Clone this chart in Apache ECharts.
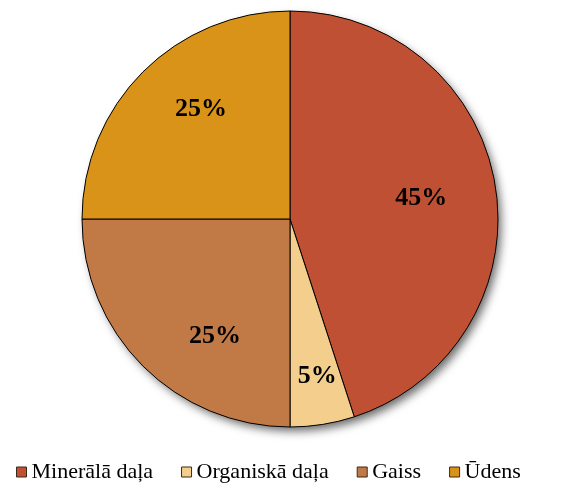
<!DOCTYPE html>
<html>
<head>
<meta charset="utf-8">
<script src="https://cdn.jsdelivr.net/npm/echarts@6/dist/echarts.min.js"></script>
<style>
  html, body { margin: 0; padding: 0; background: #fff; }
  #pie-chart { width: 580px; height: 484px; }
</style>
</head>
<body>
<div id="pie-chart"></div>
<script>
var categories = ['Minerālā daļa', 'Organiskā daļa', 'Gaiss', 'Ūdens'];
var values = [45, 5, 25, 25];
var colors = ['#BF5034', '#F3CE8C', '#C17A46', '#D99318'];

document.addEventListener('DOMContentLoaded', function () {
    var pieChart = echarts.init(document.getElementById('pie-chart'));

    // label nudges, Excel places them a bit off mid-angle
    var labelOffsets = [[-10, 2], [5, 16], [26, 16], [12, -9]];

    var pieData = categories.map(function (name, i) {
        return { name: name, value: values[i], itemStyle: { color: colors[i] } };
    });

    var option = {
        animation: false,
        textStyle: { fontFamily: 'Liberation Serif' },
        legend: {
            top: 456,
            left: 11,
            itemWidth: 10,
            itemHeight: 10,
            itemGap: 28,
            icon: 'rect',
            itemStyle: { borderColor: '#3a2a1a', borderWidth: 1 },
            textStyle: {
                fontFamily: 'Liberation Serif',
                fontSize: 22,
                color: '#000'
            },
            data: categories
        },
        series: [
            {
                // shadow disc under the pie
                type: 'pie',
                id: 'shadowDisc',
                center: [290, 219],
                radius: 207,
                z: 1,
                legendHoverLink: false,
                data: [{ value: 1, name: 'shadow' }],
                label: { show: false },
                emphasis: { disabled: true },
                itemStyle: {
                    color: '#888',
                    shadowBlur: 10,
                    shadowOffsetX: 4,
                    shadowOffsetY: 5,
                    shadowColor: 'rgba(0,0,0,0.6)'
                }
            },
            {
                type: 'pie',
                center: [290, 219],
                radius: 208,
                startAngle: 90,
                clockwise: true,
                z: 2,
                data: pieData,
                label: { show: false },
                itemStyle: { borderColor: '#000', borderWidth: 1 }
            },
            {
                // transparent overlay so labels sit further out than mid-radius
                type: 'pie',
                center: [290, 219],
                radius: 280,
                startAngle: 90,
                clockwise: true,
                silent: true,
                z: 3,
                data: pieData.map(function (d, i) {
                    return {
                        name: d.name, value: d.value,
                        itemStyle: { color: 'rgba(0,0,0,0)' },
                        label: { offset: labelOffsets[i] }
                    };
                }),
                itemStyle: { borderWidth: 0 },
                labelLine: { show: false },
                label: {
                    show: true,
                    position: 'inside',
                    formatter: '{c}%',
                    fontFamily: 'Liberation Serif',
                    fontWeight: 'bold',
                    fontSize: 26,
                    color: '#000'
                }
            }
        ]
    };

    try {
        pieChart.setOption(option);
    } catch (error) {
        console.error('Error setting the chart option:', error);
    }
});
</script>
</body>
</html>
